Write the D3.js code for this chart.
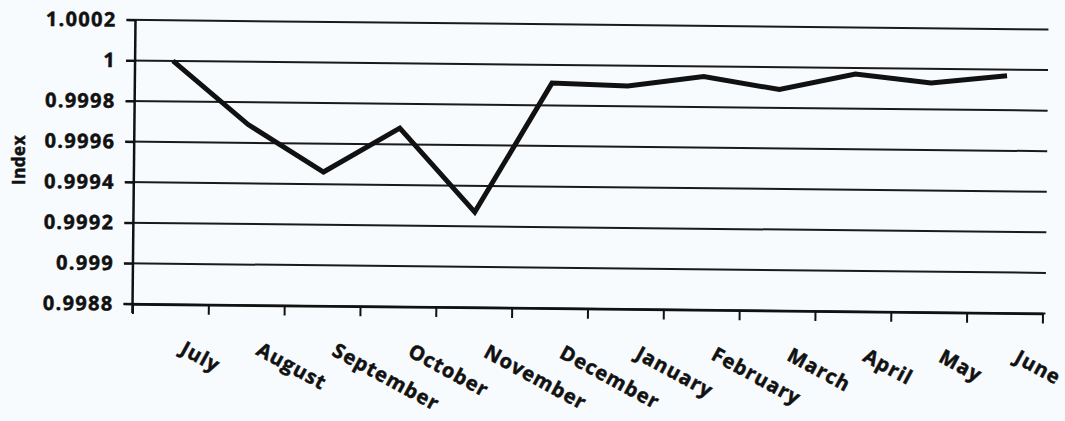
<!DOCTYPE html>
<html>
<head>
<meta charset="utf-8">
<script src="https://cdn.jsdelivr.net/npm/d3@7"></script>
<style>
  html, body { margin: 0; padding: 0; background: #f8fbfd; }
  svg { display: block; }
  text { font-family: "Open Sans", "Liberation Sans", sans-serif; font-weight: 700; fill: #111; stroke: #111; stroke-width: 0.5px; }
</style>
</head>
<body>
<svg id="chart" width="1065" height="421"></svg>
<script>
const months = ["July","August","September","October","November","December","January","February","March","April","May","June"];
const indexValues = [1.0000, 0.99969, 0.99946, 0.99968, 0.99927, 0.99991, 0.99990, 0.99995, 0.99989, 0.99997, 0.99993, 0.99997];
const yTickValues = [0.9988, 0.9990, 0.9992, 0.9994, 0.9996, 0.9998, 1.0000, 1.0002];
const yTickLabels = ["0.9988","0.999","0.9992","0.9994","0.9996","0.9998","1","1.0002"];
const yTitle = "Index";

const svg = d3.select("#chart");
svg.append("rect").attr("width",1065).attr("height",421).attr("fill","#f8fbfd");

const pLeft = 134, pRight = 1044, pTop = 24.7, pBottom = 308.7;
const g = svg.append("g").attr("transform","rotate(0.6,590,166)");

const x = d3.scaleBand().domain(months).range([pLeft, pRight]).padding(0);
const xEdge = d3.scaleLinear().domain([0, months.length]).range([pLeft, pRight]);
const y = d3.scaleLinear().domain([0.9988, 1.0002]).range([pBottom, pTop]);

// gridlines
g.append("g").selectAll("line").data(yTickValues).join("line")
  .attr("x1", pLeft - 9).attr("x2", pRight + 3)
  .attr("y1", d => y(d)).attr("y2", d => y(d))
  .attr("stroke", "#1a1a1a").attr("stroke-width", 2);

// y axis
const yAxis = d3.axisLeft(y).tickValues(yTickValues)
  .tickFormat((d,i) => yTickLabels[i]).tickSize(9).tickPadding(10);
const ya = g.append("g").attr("transform", `translate(${pLeft},0)`).call(yAxis);
ya.attr("font-family", null).attr("font-size", null);
ya.select(".domain").attr("stroke","#111").attr("stroke-width",2.5)
  .attr("d", `M0,${pTop}V${pBottom + 9}`);
ya.selectAll(".tick line").attr("stroke","#111").attr("stroke-width",2);
ya.selectAll(".tick text").style("font-size","20px").style("letter-spacing","1.3px")
  .attr("fill","#111");

// x axis ticks at band edges
const xAxis = d3.axisBottom(xEdge).tickValues(d3.range(0, months.length + 1))
  .tickFormat("").tickSize(10).tickSizeOuter(0);
const xa = g.append("g").attr("transform", `translate(0,${pBottom})`).call(xAxis);
xa.select(".domain").attr("stroke","#111").attr("stroke-width",2.5);
xa.selectAll(".tick line").attr("stroke","#111").attr("stroke-width",2);

// month labels
const lx = d => x(d) + x.bandwidth()/2 + 16;
const ly = pBottom + 36;
g.append("g").selectAll("text").data(months).join("text")
  .attr("x", lx)
  .attr("y", ly)
  .attr("dy", "0.72em")
  .attr("text-anchor","start")
  .attr("transform", d => `rotate(28,${lx(d)},${ly})`)
  .style("font-size","20px").style("letter-spacing","1px")
  .text(d => d);

// y title
svg.append("text")
  .attr("transform","translate(25,160) rotate(-90)")
  .attr("text-anchor","middle")
  .style("font-size","17px").style("letter-spacing","0.5px")
  .text(yTitle);

// line
const line = d3.line().x((d,i) => x(months[i]) + x.bandwidth()/2).y(d => y(d));
g.append("path").datum(indexValues)
  .attr("d", line).attr("fill","none").attr("stroke","#111")
  .attr("stroke-width",5).attr("stroke-linejoin","miter");
</script>
</body>
</html>
